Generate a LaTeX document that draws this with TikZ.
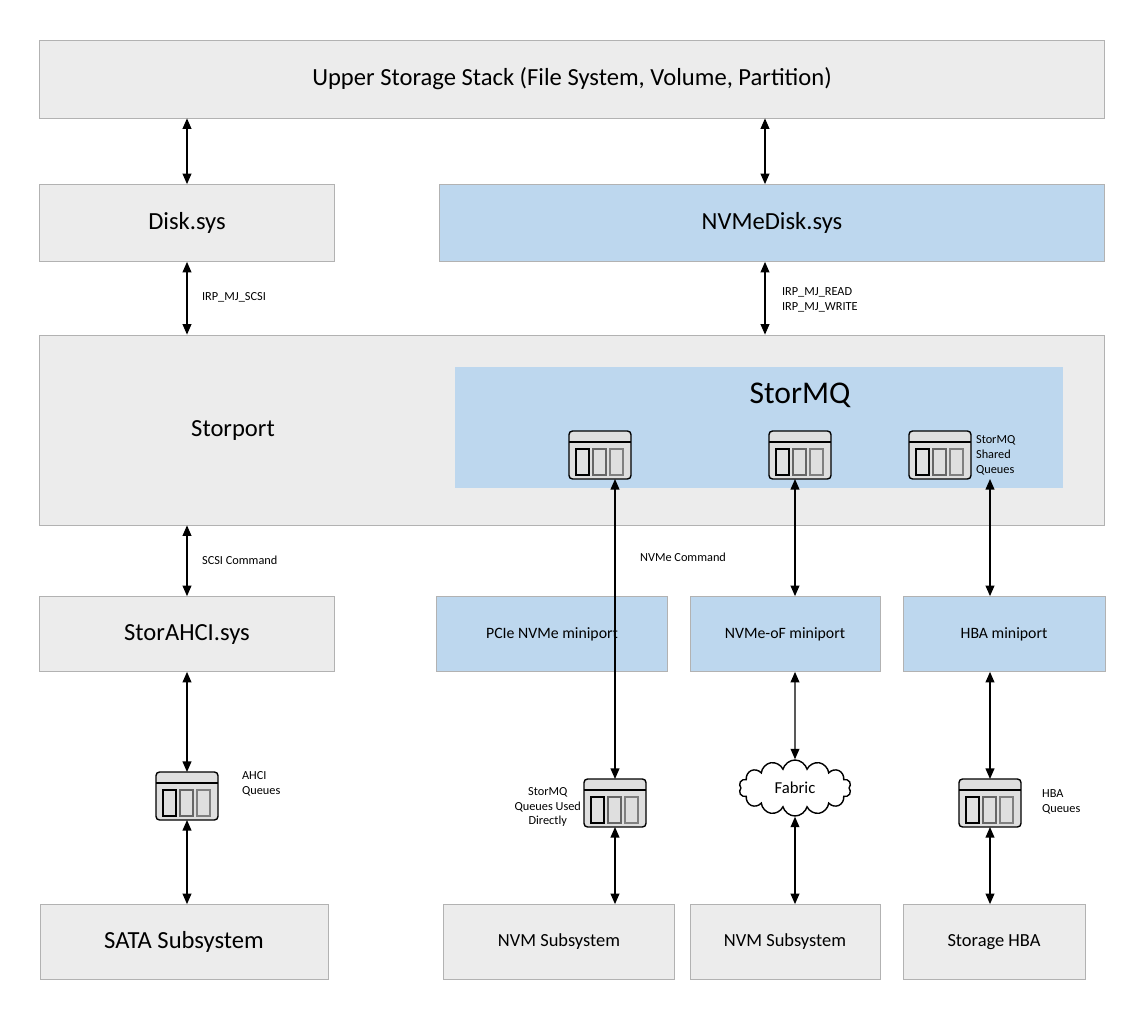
\documentclass[tikz,border=0pt]{standalone}
\usepackage{fontspec}
\setmainfont{Carlito}
\usetikzlibrary{arrows.meta,positioning,shapes.symbols}
\definecolor{boxgray}{RGB}{236,236,236}
\definecolor{boxblue}{RGB}{189,215,238}
\tikzset{>={Triangle[length=6pt,width=5pt]}}
\tikzset{edge/.style = {<->, thick}}
\tikzset{layer/.style = {draw=gray!60, fill=boxgray, inner sep=0pt, font=\fontsize{14}{16}\selectfont}}
\tikzset{blue layer/.style = {layer, fill=boxblue}}
\tikzset{note/.style = {font=\fontsize{7}{8.5}\selectfont, align=left, inner sep=1pt}}
\tikzset{queue/.pic = {
  \draw[thick, rounded corners=2pt, fill=gray!25] (-31,-24) rectangle (31,24);
  \draw[thick] (-31,-13) -- (31,-13);
  \draw[thick, fill=gray!25] (-24,-6) rectangle (-11,20);
  \draw[thick, draw=gray!80!black, fill=gray!25] (-7,-6) rectangle (6,20);
  \draw[thick, draw=gray, fill=gray!25] (10,-6) rectangle (23,20);
  \coordinate (-top) at (0,-24);
  \coordinate (-bot) at (0,24);
}}
\begin{document}
\begin{tikzpicture}[x=0.02cm, y=-0.02cm]
\useasboundingbox (0,0) rectangle (1127,1024);
% top of the stack
\node[layer, minimum width=1065*0.02cm, minimum height=78*0.02cm] (upper) at (572,79) {Upper Storage Stack (File System, Volume, Partition)};
\node[layer, minimum width=295*0.02cm, minimum height=77*0.02cm] (disk) at (187,223) {Disk.sys};
\node[blue layer, minimum width=665*0.02cm, minimum height=77*0.02cm] (nvmedisk) at (772,223) {NVMeDisk.sys};
% storport and storMQ
\node[layer, minimum width=1065*0.02cm, minimum height=190*0.02cm] (storport) at (572,430) {};
\node[layer, draw=none, fill=none] (storportlabel) at (233,430) {Storport};
\node[blue layer, draw=none, minimum width=608*0.02cm, minimum height=121*0.02cm] (stormq) at (759,427) {};
\node[font=\fontsize{18}{21}\selectfont] (stormqlabel) at (800,395) {StorMQ};
\pic (q1) at (600,455) {queue};
\pic (q2) at (800,455) {queue};
\pic (q3) at (940,455) {queue};
\node[note, right] (sharedq) at (974,455) {StorMQ\\Shared\\Queues};
% miniports
\node[layer, minimum width=295*0.02cm, minimum height=75*0.02cm] (ahci) at (187,634) {StorAHCI.sys};
\node[blue layer, font=\fontsize{9}{11}\selectfont, minimum width=231*0.02cm, minimum height=75*0.02cm] (pcie) at (552,634) {PCIe NVMe miniport};
\node[blue layer, font=\fontsize{9}{11}\selectfont, minimum width=190*0.02cm, minimum height=75*0.02cm] (nvmeof) at (785,634) {NVMe-oF miniport};
\node[blue layer, font=\fontsize{9}{11}\selectfont, minimum width=202*0.02cm, minimum height=75*0.02cm] (hba) at (1004,634) {HBA miniport};
% queues and fabric
\pic (qahci) at (187,796) {queue};
\pic (qdirect) at (615,803) {queue};
\pic (qhba) at (990,803) {queue};
\node[cloud, draw, thick, fill=white, cloud puffs=14, aspect=2.2, minimum width=112*0.02cm, minimum height=56*0.02cm, font=\fontsize{9.5}{11}\selectfont] (fabric) at (795,788) {Fabric};
% subsystems
\node[layer, minimum width=288*0.02cm, minimum height=75*0.02cm] (sata) at (184,942) {SATA Subsystem};
\node[layer, font=\fontsize{10.5}{12}\selectfont, minimum width=231*0.02cm, minimum height=75*0.02cm] (nvm1) at (559,942) {NVM Subsystem};
\node[layer, font=\fontsize{10.5}{12}\selectfont, minimum width=190*0.02cm, minimum height=75*0.02cm] (nvm2) at (785,942) {NVM Subsystem};
\node[layer, font=\fontsize{10.5}{12}\selectfont, minimum width=182*0.02cm, minimum height=75*0.02cm] (storhba) at (994,942) {Storage HBA};
% connectors
\draw[edge] (upper.south -| disk) -- (disk);
\draw[edge] (upper.south -| 765,0) -- (nvmedisk.north -| 765,0);
\draw[edge] (disk) -- (storport.north -| disk);
\draw[edge] (nvmedisk.south -| 765,0) -- (storport.north -| 765,0);
\draw[edge] (storport.south -| ahci) -- (ahci);
\draw[edge] (ahci) -- (qahci-top);
\draw[edge] (qahci-bot) -- (sata.north -| qahci-bot);
\draw[edge] (q1-bot -| 615,0) -- (qdirect-top);
\draw[edge] (qdirect-bot) -- (nvm1.north -| qdirect-bot);
\draw[edge] (q2-bot -| 795,0) -- (nvmeof.north -| 795,0);
\draw[edge] (nvmeof.south -| 795,0) -- (fabric.north);
\draw[edge] (fabric.south) -- (nvm2.north -| fabric.south);
\draw[edge] (q3-bot -| qhba-top) -- (hba.north -| qhba-top);
\draw[edge] (hba.south -| qhba-top) -- (qhba-top);
\draw[edge] (qhba-bot) -- (storhba.north -| qhba-bot);
% labels
\node[note, right] (irpscsi) at (200,297) {IRP\_MJ\_SCSI};
\node[note, right] (irprw) at (780,300) {IRP\_MJ\_READ\\IRP\_MJ\_WRITE};
\node[note, right] (scsicmd) at (200,560) {SCSI Command};
\node[note, right] (nvmecmd) at (638,557) {NVMe Command};
\node[note, right] (ahciq) at (240,784) {AHCI\\Queues};
\node[note, align=center, left] (directq) at (583,807) {StorMQ\\Queues Used\\Directly};
\node[note, right] (hbaq) at (1040,802) {HBA\\Queues};
\end{tikzpicture}
\end{document}
